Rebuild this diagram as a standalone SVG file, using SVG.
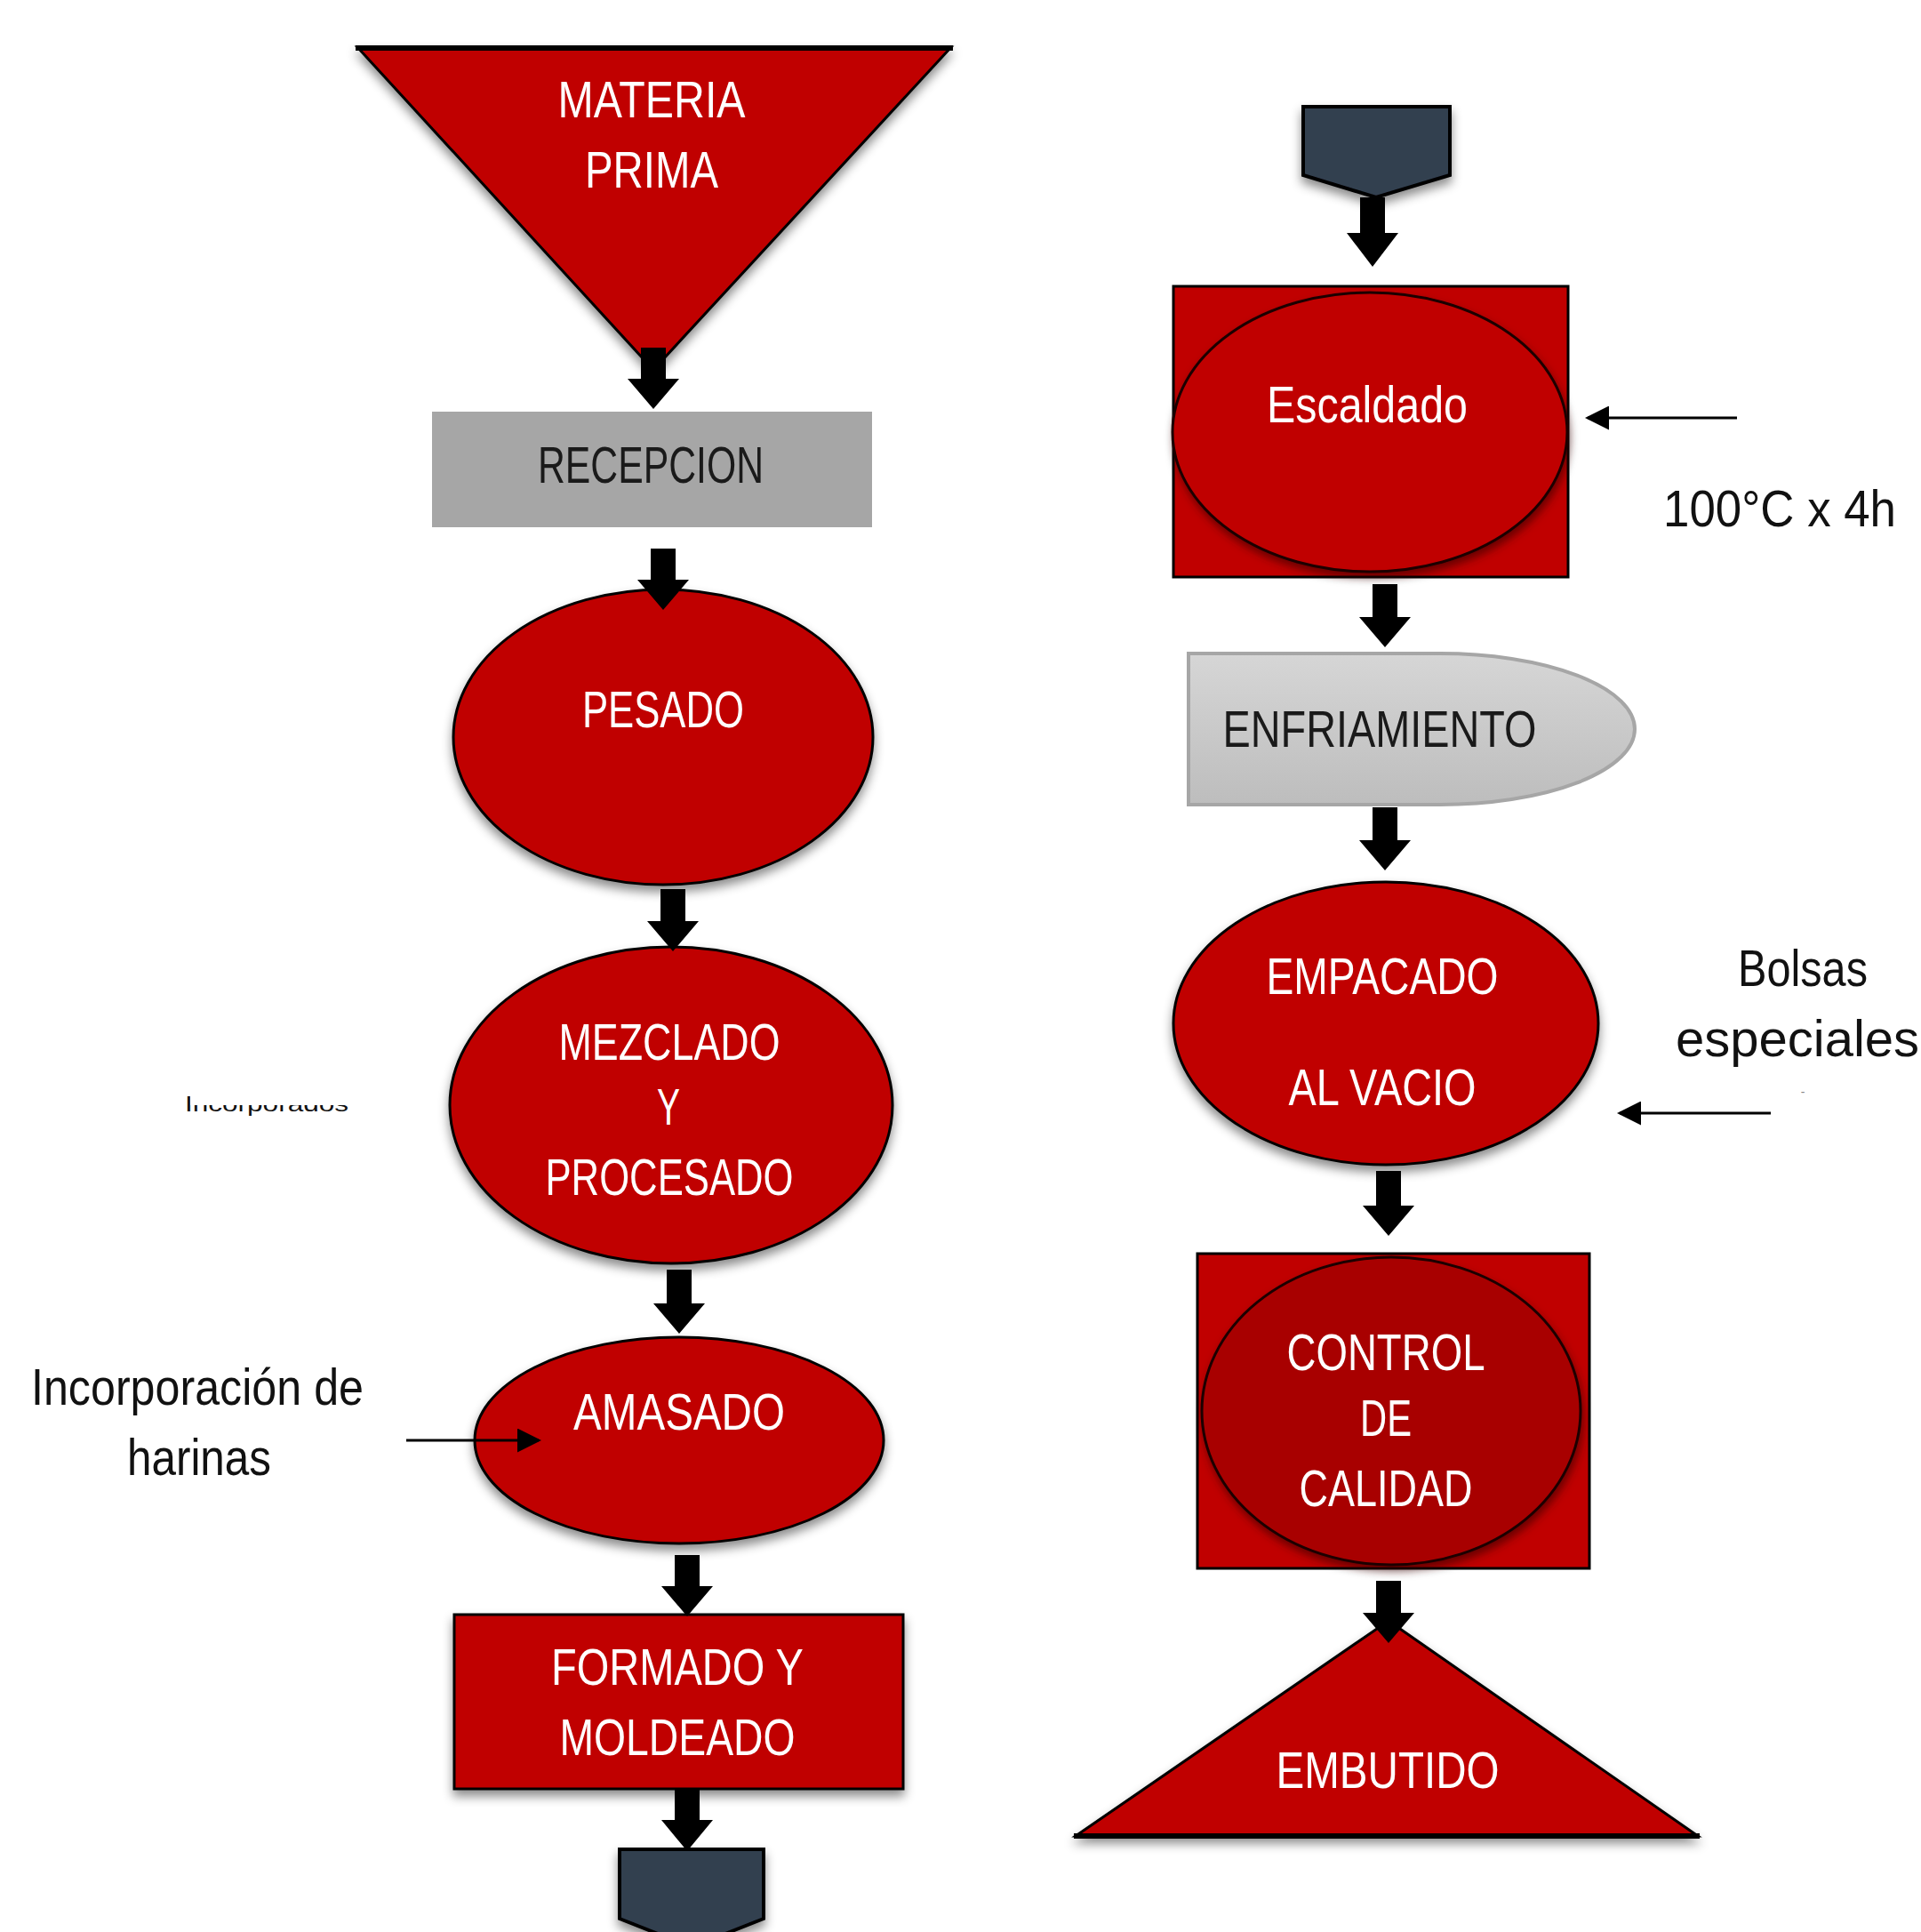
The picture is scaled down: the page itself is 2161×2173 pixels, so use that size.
<svg xmlns="http://www.w3.org/2000/svg" width="2161" height="2173" viewBox="0 0 2161 2173">
<defs>
  <style>
    .red{fill:#c00000;stroke:#000;stroke-width:3}
    .lbl{font-family:"Liberation Sans",Arial,sans-serif;font-size:58px;fill:#fff;text-anchor:middle}
    .dk{fill:#1a1a1a}
    .note{font-family:"Liberation Sans",Arial,sans-serif;font-size:58px;fill:#111;text-anchor:middle}
    .blk{fill:#000}
    .thin{stroke:#000;stroke-width:3;fill:none;marker-end:url(#ah)}
    .off{fill:#333f50;stroke:#000;stroke-width:4}
  </style>
  <filter id="sh" x="-20%" y="-20%" width="140%" height="150%">
    <feDropShadow dx="0" dy="7" stdDeviation="6" flood-color="#000" flood-opacity="0.45"/>
  </filter>
  <filter id="sh2" x="-20%" y="-20%" width="140%" height="150%">
    <feDropShadow dx="2" dy="6" stdDeviation="5" flood-color="#300" flood-opacity="0.6"/>
  </filter>
  <linearGradient id="gr" x1="0" y1="0" x2="0" y2="1">
    <stop offset="0" stop-color="#d6d6d6"/>
    <stop offset="1" stop-color="#bdbdbd"/>
  </linearGradient>
  <marker id="ah" markerWidth="9" markerHeight="9" refX="8" refY="4.5" orient="auto" markerUnits="strokeWidth">
    <path d="M0,0 L9,4.5 L0,9 Z" fill="#000"/>
  </marker>
  <clipPath id="clipg">
    <rect x="200" y="1225" width="14" height="30"/>
    <rect x="214" y="1243" width="190" height="12"/>
  </clipPath>
</defs>
<rect width="2161" height="2173" fill="#fff"/>

<g id="materia-prima">
  <polygon points="402,53 1070,53 735,416" class="red" filter="url(#sh)"/>
  <line x1="400" y1="54" x2="1072" y2="54" stroke="#000" stroke-width="6"/>
  <text class="lbl" x="733" y="132" textLength="211" lengthAdjust="spacingAndGlyphs">MATERIA</text>
  <text class="lbl" x="733" y="211" textLength="150" lengthAdjust="spacingAndGlyphs">PRIMA</text>
</g>

<g id="recepcion">
  <rect x="486" y="463" width="495" height="130" fill="#a6a6a6"/>
  <text class="lbl dk" x="732" y="543" textLength="254" lengthAdjust="spacingAndGlyphs">RECEPCION</text>
</g>

<g id="pesado">
  <ellipse cx="746" cy="829" rx="236" ry="166" class="red" filter="url(#sh)"/>
  <text class="lbl" x="746" y="818" textLength="182" lengthAdjust="spacingAndGlyphs">PESADO</text>
</g>

<g id="mezclado">
  <ellipse cx="755" cy="1243" rx="249" ry="178" class="red" filter="url(#sh)"/>
  <text class="lbl" x="753" y="1192" textLength="249" lengthAdjust="spacingAndGlyphs">MEZCLADO</text>
  <text class="lbl" x="752" y="1265" textLength="26" lengthAdjust="spacingAndGlyphs">Y</text>
  <text class="lbl" x="753" y="1344" textLength="279" lengthAdjust="spacingAndGlyphs">PROCESADO</text>
</g>

<g id="amasado">
  <ellipse cx="764" cy="1620" rx="230" ry="116" class="red" filter="url(#sh)"/>
  <text class="lbl" x="764" y="1608" textLength="238" lengthAdjust="spacingAndGlyphs">AMASADO</text>
</g>

<g id="formado">
  <rect x="511" y="1816" width="505" height="196" class="red" stroke-width="5" filter="url(#sh)"/>
  <text class="lbl" x="762" y="1895" textLength="284" lengthAdjust="spacingAndGlyphs">FORMADO Y</text>
  <text class="lbl" x="762" y="1974" textLength="265" lengthAdjust="spacingAndGlyphs">MOLDEADO</text>
</g>

<g id="conector-salida">
  <polygon points="697,2080 859,2080 859,2158 778,2190 697,2158" class="off" filter="url(#sh)"/>
</g>

<g id="nota-ingredientes">
  <text x="208" y="1250" clip-path="url(#clipg)" font-family="Liberation Sans, Arial, sans-serif" font-size="24" fill="#111" textLength="184" lengthAdjust="spacingAndGlyphs">Incorporados</text>
</g>

<g id="nota-harinas">
  <text class="note" x="222" y="1580" textLength="374" lengthAdjust="spacingAndGlyphs">Incorporación de</text>
  <text class="note" x="224" y="1659" textLength="162" lengthAdjust="spacingAndGlyphs">harinas</text>
</g>

<g id="conector-entrada">
  <polygon points="1466,120 1631,120 1631,197 1548,222 1466,197" class="off" filter="url(#sh)"/>
</g>

<g id="escaldado">
  <rect x="1320" y="322" width="444" height="327" class="red" stroke-width="4"/>
  <ellipse cx="1541" cy="486" rx="222" ry="157" fill="#c00000" stroke="#1a0000" stroke-width="3" filter="url(#sh2)"/>
  <text class="lbl" x="1538" y="475" textLength="226" lengthAdjust="spacingAndGlyphs">Escaldado</text>
</g>

<g id="nota-temp">
  <text class="note" x="2002" y="592" textLength="262" lengthAdjust="spacingAndGlyphs">100°C x 4h</text>
</g>

<g id="enfriamiento">
  <path d="M1337,735 H1620 A219,85 0 0 1 1620,905 H1337 Z" fill="url(#gr)" stroke="#a6a6a6" stroke-width="4"/>
  <text class="lbl dk" x="1552" y="840" textLength="353" lengthAdjust="spacingAndGlyphs">ENFRIAMIENTO</text>
</g>

<g id="empacado">
  <ellipse cx="1559" cy="1151" rx="239" ry="159" class="red" filter="url(#sh)"/>
  <text class="lbl" x="1555" y="1118" textLength="261" lengthAdjust="spacingAndGlyphs">EMPACADO</text>
  <text class="lbl" x="1555" y="1243" textLength="211" lengthAdjust="spacingAndGlyphs">AL VACIO</text>
</g>

<g id="nota-bolsas">
  <text class="note" x="2028" y="1109" textLength="146" lengthAdjust="spacingAndGlyphs">Bolsas</text>
  <text class="note" x="2022" y="1188" font-size="52">especiales</text>
  <text x="2028" y="1233" font-family="Liberation Sans, Arial, sans-serif" font-size="14" fill="#888" text-anchor="middle">-</text>
</g>

<g id="control-calidad">
  <rect x="1347" y="1410" width="441" height="354" class="red" stroke-width="4"/>
  <ellipse cx="1565" cy="1587" rx="213" ry="173" fill="#a80000" stroke="#1a0000" stroke-width="3" filter="url(#sh2)"/>
  <text class="lbl" x="1559" y="1541" textLength="223" lengthAdjust="spacingAndGlyphs">CONTROL</text>
  <text class="lbl" x="1559" y="1615" textLength="58" lengthAdjust="spacingAndGlyphs">DE</text>
  <text class="lbl" x="1559" y="1694" textLength="195" lengthAdjust="spacingAndGlyphs">CALIDAD</text>
</g>

<g id="embutido">
  <polygon points="1562,1823 1910,2065 1210,2065" class="red" filter="url(#sh)"/>
  <line x1="1208" y1="2065" x2="1912" y2="2065" stroke="#000" stroke-width="6"/>
  <text class="lbl" x="1561" y="2011" textLength="251" lengthAdjust="spacingAndGlyphs">EMBUTIDO</text>
</g>

<g id="connectors">
  <polygon class="blk" points="721,391 749,391 749,426 764,426 735,460 706,426 721,426"/>
  <polygon class="blk" points="732,617 760,617 760,652 775,652 746,686 717,652 732,652"/>
  <polygon class="blk" points="743,1000 771,1000 771,1036 786,1036 757,1070 728,1036 743,1036"/>
  <polygon class="blk" points="750,1428 778,1428 778,1466 793,1466 764,1500 735,1466 750,1466"/>
  <polygon class="blk" points="759,1749 787,1749 787,1784 802,1784 773,1818 744,1784 759,1784"/>
  <polygon class="blk" points="759,2012 787,2012 787,2047 802,2047 773,2082 744,2047 759,2047"/>
  <line class="thin" x1="457" y1="1620" x2="606" y2="1620"/>

  <polygon class="blk" points="1530,222 1558,222 1558,262 1573,262 1544,300 1515,262 1530,262"/>
  <polygon class="blk" points="1544,657 1572,657 1572,694 1587,694 1558,728 1529,694 1544,694"/>
  <polygon class="blk" points="1544,908 1572,908 1572,945 1587,945 1558,979 1529,945 1544,945"/>
  <polygon class="blk" points="1548,1317 1576,1317 1576,1356 1591,1356 1562,1390 1533,1356 1548,1356"/>
  <polygon class="blk" points="1548,1778 1576,1778 1576,1814 1591,1814 1562,1848 1533,1814 1548,1814"/>
  <line class="thin" x1="1954" y1="470" x2="1786" y2="470"/>
  <line class="thin" x1="1992" y1="1252" x2="1822" y2="1252"/>
</g>
</svg>
